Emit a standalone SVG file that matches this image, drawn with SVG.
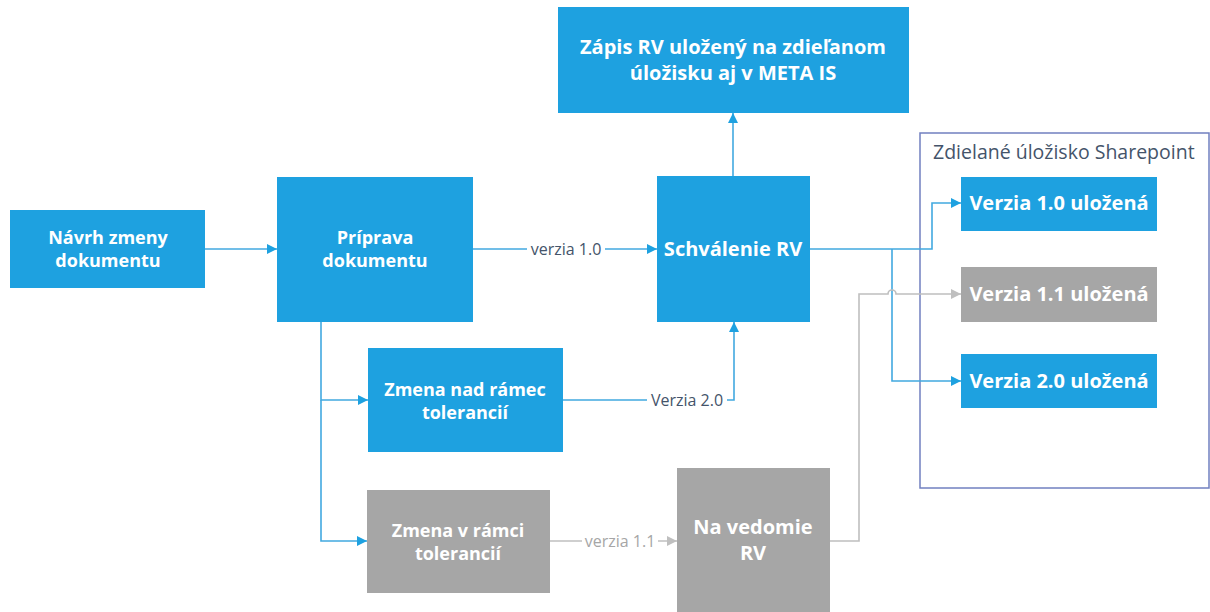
<svg xmlns="http://www.w3.org/2000/svg" width="1210" height="612" viewBox="0 0 1210 612">
<style>
.b{fill:#1EA1E0}
.g{fill:#A6A6A6}
.t{font-family:"Open Sans","Noto Sans",sans-serif;font-weight:bold;font-size:18px;fill:#fff;text-anchor:middle}
.t2{font-size:20px}
.bl{fill:none;stroke:#42A9E0;stroke-width:1.6}
.gl{fill:none;stroke:#BFBFBF;stroke-width:1.6}
.lb{font-family:"Open Sans","Noto Sans",sans-serif;font-size:16px;text-anchor:middle}
</style>
<defs>
<marker id="ab" viewBox="0 0 10 10" refX="10" refY="5" markerWidth="10" markerHeight="10" markerUnits="userSpaceOnUse" orient="auto"><path d="M0,0L10,5L0,10z" fill="#1EA1E0"/></marker>
<marker id="ag" viewBox="0 0 10 10" refX="10" refY="5" markerWidth="10" markerHeight="10" markerUnits="userSpaceOnUse" orient="auto"><path d="M0,0L10,5L0,10z" fill="#BFBFBF"/></marker>
</defs>
<rect width="1210" height="612" fill="#fff"/>
<g id="container">
<rect x="920" y="133" width="289" height="355" fill="none" stroke="#7180C0" stroke-width="1.5"/>
<text x="933" y="159" font-family="'Open Sans','Noto Sans',sans-serif" font-size="19.5" fill="#44546A">Zdielané úložisko Sharepoint</text>
</g>
<g id="connectors">
<path class="bl" d="M205,249H277" marker-end="url(#ab)"/>
<path class="bl" d="M473,249H657" marker-end="url(#ab)"/>
<path class="bl" d="M733,176V113" marker-end="url(#ab)"/>
<path class="bl" d="M810,249H932V203H961" marker-end="url(#ab)"/>
<path class="bl" d="M892,249V381H961" marker-end="url(#ab)"/>
<path class="bl" d="M321,322V400H368" marker-end="url(#ab)"/>
<path class="bl" d="M321,400V541H367" marker-end="url(#ab)"/>
<path class="bl" d="M563,400H734V322" marker-end="url(#ab)"/>
<path class="gl" d="M550,541H677" marker-end="url(#ag)"/>
<path class="gl" d="M830,541H859V294H888A4,4 0 0 1 896,294H961" marker-end="url(#ag)"/>
<rect x="527" y="239" width="78" height="20" fill="#fff"/>
<text class="lb" x="566" y="255" fill="#44546A">verzia 1.0</text>
<rect x="647" y="390" width="80" height="20" fill="#fff"/>
<text class="lb" x="687" y="406" fill="#44546A">Verzia 2.0</text>
<rect x="582" y="531" width="76" height="20" fill="#fff"/>
<text class="lb" x="620" y="547" fill="#A6A6A6">verzia 1.1</text>
</g>
<g id="navrh"><rect class="b" x="10" y="210" width="195" height="78"/><text class="t" x="108" y="244">Návrh zmeny</text><text class="t" x="108" y="267">dokumentu</text></g>
<g id="priprava"><rect class="b" x="277" y="177" width="196" height="145"/><text class="t" x="375" y="244">Príprava</text><text class="t" x="375" y="267">dokumentu</text></g>
<g id="schvalenie"><rect class="b" x="657" y="176" width="153" height="146"/><text class="t t2" x="733" y="256">Schválenie RV</text></g>
<g id="zapis"><rect class="b" x="558" y="7" width="351" height="106"/><text class="t t2" x="733" y="54">Zápis RV uložený na zdieľanom</text><text class="t t2" x="733" y="80">úložisku aj v META IS</text></g>
<g id="nad"><rect class="b" x="368" y="348" width="195" height="104"/><text class="t" x="465" y="396">Zmena nad rámec</text><text class="t" x="465" y="419">tolerancií</text></g>
<g id="vramci"><rect class="g" x="367" y="490" width="183" height="103"/><text class="t" x="458" y="537">Zmena v rámci</text><text class="t" x="458" y="560">tolerancií</text></g>
<g id="navedomie"><rect class="g" x="677" y="468" width="153" height="150"/><text class="t t2" x="753" y="534">Na vedomie</text><text class="t t2" x="753" y="560">RV</text></g>
<g id="v10"><rect class="b" x="961" y="177" width="196" height="54"/><text class="t t2" x="1059" y="210">Verzia 1.0 uložená</text></g>
<g id="v11"><rect class="g" x="961" y="267" width="196" height="55"/><text class="t t2" x="1059" y="301">Verzia 1.1 uložená</text></g>
<g id="v20"><rect class="b" x="961" y="354" width="196" height="54"/><text class="t t2" x="1059" y="388">Verzia 2.0 uložená</text></g>
</svg>
